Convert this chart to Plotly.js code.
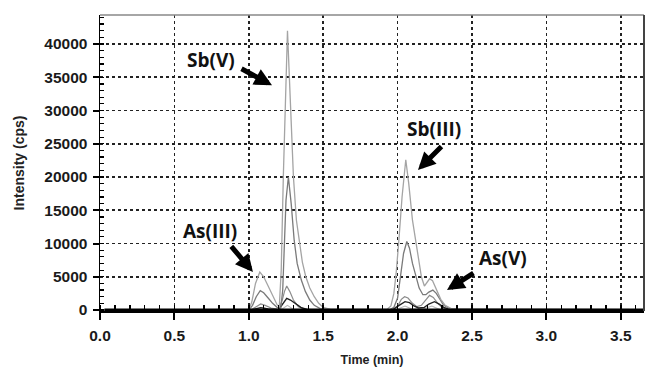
<!DOCTYPE html>
<html><head><meta charset="utf-8">
<script src="https://cdn.plot.ly/plotly-3.0.1.min.js"></script>
<style>html,body{margin:0;padding:0;background:#fff}#c{width:646px;height:367px}</style>
</head><body><div id="c"></div>
<script>
// Chromatogram traces (time in min, intensity in cps)
const tA = [0, 1.00, 1.02, 1.045, 1.074, 1.10, 1.13, 1.16, 1.19, 1.205, 1.218, 1.232, 1.26, 1.28, 1.30, 1.32, 1.34, 1.36, 1.383, 1.41, 1.44, 1.47, 1.50, 1.55, 1.93, 1.955, 1.975, 1.99, 2.007, 2.03, 2.055, 2.075, 2.10, 2.125, 2.145, 2.16, 2.18, 2.20, 2.215, 2.235, 2.26, 2.29, 2.32, 2.36, 2.40, 3.65];
const yA = [0, 0, 1200, 4000, 5700, 5000, 3600, 2100, 800, 500, 6000, 20000, 42000, 31000, 20000, 13500, 10000, 7200, 5000, 3300, 2000, 1000, 400, 100, 100, 600, 2500, 5500, 10000, 17000, 22600, 19000, 13500, 10000, 7000, 5000, 3600, 4300, 4700, 4400, 3200, 1600, 700, 200, 80, 50];
const tB = [0, 1.00, 1.025, 1.05, 1.077, 1.10, 1.13, 1.16, 1.19, 1.215, 1.228, 1.24, 1.25, 1.266, 1.285, 1.305, 1.325, 1.353, 1.38, 1.41, 1.44, 1.48, 1.55, 1.95, 1.975, 2.00, 2.02, 2.04, 2.062, 2.08, 2.10, 2.12, 2.145, 2.17, 2.19, 2.21, 2.237, 2.26, 2.285, 2.31, 2.35, 2.40, 3.65];
const yB = [0, 0, 700, 2000, 2900, 2600, 1800, 1000, 400, 300, 3000, 9000, 16500, 20000, 16000, 10500, 7000, 4500, 2800, 1500, 700, 200, 50, 50, 400, 1800, 5000, 8500, 10300, 9300, 7000, 5200, 3300, 2300, 2300, 2700, 3000, 2500, 1500, 700, 200, 60, 50];
const tC = [0, 1.02, 1.05, 1.08, 1.11, 1.15, 1.20, 1.225, 1.24, 1.255, 1.275, 1.30, 1.333, 1.37, 1.42, 1.96, 2.00, 2.025, 2.047, 2.07, 2.10, 2.13, 2.16, 2.19, 2.215, 2.24, 2.27, 2.30, 2.34, 3.65];
const yC = [0, 100, 500, 900, 700, 300, 100, 1500, 2800, 3600, 2800, 1500, 500, 150, 50, 50, 600, 1600, 2000, 1800, 1000, 500, 700, 1600, 2200, 1900, 1000, 350, 80, 30];
const tD = [0, 1.03, 1.08, 1.13, 1.20, 1.23, 1.255, 1.28, 1.31, 1.35, 1.39, 1.97, 2.01, 2.05, 2.08, 2.11, 2.14, 2.18, 2.21, 2.248, 2.28, 2.31, 2.35, 3.65];
const yD = [0, 100, 350, 150, 50, 900, 1750, 1500, 1000, 400, 80, 50, 700, 1250, 1100, 600, 300, 400, 900, 1250, 900, 400, 100, 30];
const tE = [0, 1.05, 1.09, 1.13, 1.22, 1.26, 1.30, 1.99, 2.05, 2.10, 2.18, 2.23, 2.28, 3.65];
const yE = [0, 100, 400, 100, 100, 700, 100, 50, 600, 100, 200, 600, 100, 0];
const tBase = [0.03, 3.65];
const yBase = [0, 0];

// axis tick settings
const xRange = [0, 3.656];
const yRange = [-150, 44360];
const xTickStep = 0.5;
const xMinorStep = 0.1;
const yTickStep = 5000;
const yMinorStep = 1000;

// species labels
const labels = ['Sb(V)', 'Sb(III)', 'As(III)', 'As(V)'];
const labelPos = [[0.746, 37600], [2.245, 27200], [0.739, 11900], [2.708, 7800]];
const arrowTail = [[0.941, 36400], [2.305, 24800], [0.874, 9800], [2.520, 5700]];
const arrowHead = [[1.156, 33800], [2.137, 21050], [1.028, 5700], [2.332, 3000]];

const F = '"Liberation Sans", Arial, sans-serif';
const traces = [
  {x: tE, y: yE, color: '#b8b8b8', w: 1.1},
  {x: tC, y: yC, color: '#8c8c8c', w: 1.2},
  {x: tD, y: yD, color: '#222222', w: 1.4},
  {x: tB, y: yB, color: '#7a7a7a', w: 1.3},
  {x: tA, y: yA, color: '#a4a4a4', w: 1.3},
  {x: tBase, y: yBase, color: '#000000', w: 3}
].map(s => ({x: s.x, y: s.y, type: 'scatter', mode: 'lines', line: {color: s.color, width: s.w}, hoverinfo: 'skip'}));

const annotations = [];
labels.forEach((t, i) => {
  annotations.push({x: labelPos[i][0], y: labelPos[i][1], xref: 'x', yref: 'y', text: '<b>' + t + '</b>', showarrow: false,
    font: {family: '"Open Sans", Arial, sans-serif', size: 19, color: '#111'}});
  annotations.push({x: arrowHead[i][0], y: arrowHead[i][1], ax: arrowTail[i][0], ay: arrowTail[i][1], xref: 'x', yref: 'y', axref: 'x', ayref: 'y',
    text: '', showarrow: true, arrowhead: 2, arrowsize: 0.7, arrowwidth: 5, arrowcolor: '#000', standoff: 0, startstandoff: 0});
});

const tickFont = {family: F, size: 15.5, color: '#1a1a1a', weight: 700};
const layout = {
  width: 646, height: 367,
  margin: {l: 100, r: 2, t: 15, b: 56},
  paper_bgcolor: '#fff', plot_bgcolor: '#fff',
  showlegend: false,
  font: {family: F, color: '#222'},
  xaxis: {
    range: xRange, tickmode: 'linear', tick0: 0, dtick: xTickStep, tickformat: '.1f',
    tickprefix: '<b>', ticksuffix: '</b>',
    ticks: 'outside', ticklen: 7, tickwidth: 2, tickcolor: '#000',
    showline: true, linecolor: '#000', linewidth: 2,
    showgrid: true, gridcolor: '#222', griddash: 'dot', gridwidth: 1.6,
    zeroline: false,
    tickfont: tickFont,
    ticklabelstandoff: 2,
    minor: {ticks: 'inside', ticklen: 6, tickwidth: 1.5, tickcolor: '#000', dtick: xMinorStep, tick0: 0, showgrid: false},
    title: {text: '<b>Time (min)</b>', font: {family: F, size: 12.5, color: '#222'}, standoff: 17}
  },
  yaxis: {
    range: yRange, tickmode: 'linear', tick0: 0, dtick: yTickStep, tickformat: 'd',
    tickprefix: '<b>', ticksuffix: '</b>',
    ticks: 'outside', ticklen: 6, tickwidth: 2, tickcolor: '#000',
    showline: true, linecolor: '#000', linewidth: 1.5,
    showgrid: true, gridcolor: '#222', griddash: 'dot', gridwidth: 1.6,
    zeroline: false,
    tickfont: tickFont,
    ticklabelstandoff: 2,
    minor: {ticks: 'inside', ticklen: 4, tickwidth: 1.2, tickcolor: '#000', dtick: yMinorStep, tick0: 0, showgrid: false},
    title: {text: '<b>Intensity (cps)</b>', font: {family: F, size: 14, color: '#222'}, standoff: 16}
  },
  shapes: [
    {type: 'line', xref: 'paper', yref: 'paper', x0: 0, x1: 1, y0: 1, y1: 1, line: {color: '#888', width: 1.5}},
    {type: 'line', xref: 'paper', yref: 'paper', x0: 1, x1: 1, y0: 0, y1: 1, line: {color: '#444', width: 2}}
  ],
  annotations: annotations
};

Plotly.newPlot('c', traces, layout, {displayModeBar: false, staticPlot: true});
</script></body></html>
